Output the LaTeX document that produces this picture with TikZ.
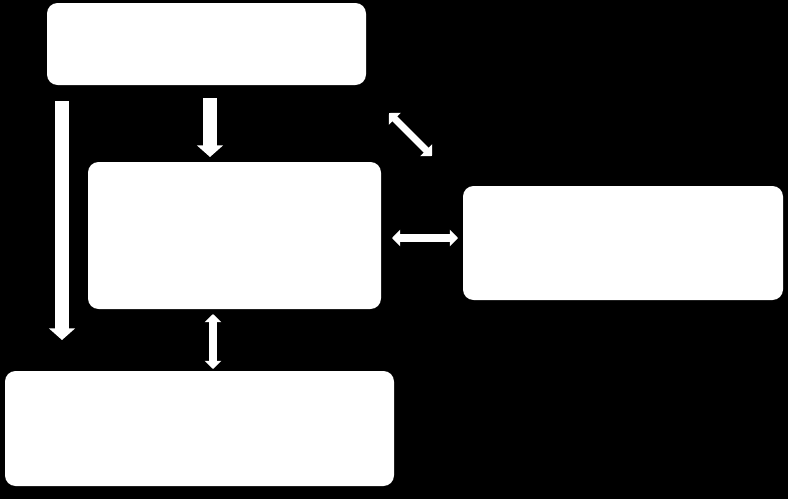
\documentclass[tikz,border=0pt]{standalone}
\usetikzlibrary{arrows.meta}
\tikzset{
  box/.style={fill=white,rounded corners=9pt},
  fatarrow/.style={white,line width=12pt,-{Triangle[length=10pt,width=22pt]}},
  dblarrow/.style={white,line width=6pt,{Triangle[length=7pt,width=14pt]}-{Triangle[length=7pt,width=14pt]}}
}
\begin{document}
\begin{tikzpicture}[x=0.03cm,y=-0.03cm]
  % Background
  \fill[black] (0,0) rectangle (788,499);
  \useasboundingbox (0,0) rectangle (788,499);

  % Boxes
  \fill[box] (47,3) rectangle (366,85);
  \fill[box] (88,162) rectangle (381,309);
  \fill[box] (463,186) rectangle (783,300);
  \fill[box] (5,371) rectangle (394,486);

  % Arrow ends
  \coordinate (lefttop) at (62,101);
  \coordinate (leftbot) at (62,340);
  \coordinate (midtop) at (210,98);
  \coordinate (midbot) at (210,157);
  \coordinate (diagA) at (389,113);
  \coordinate (diagB) at (432,156);
  \coordinate (horA) at (392,238);
  \coordinate (horB) at (458,238);
  \coordinate (verA) at (213,314);
  \coordinate (verB) at (213,369);

  % Arrows
  \draw[fatarrow] (lefttop) -- (leftbot);
  \draw[fatarrow] (midtop) -- (midbot);
  \draw[dblarrow] (diagA) -- (diagB);
  \draw[dblarrow] (horA) -- (horB);
  \draw[dblarrow] (verA) -- (verB);
\end{tikzpicture}
\end{document}
